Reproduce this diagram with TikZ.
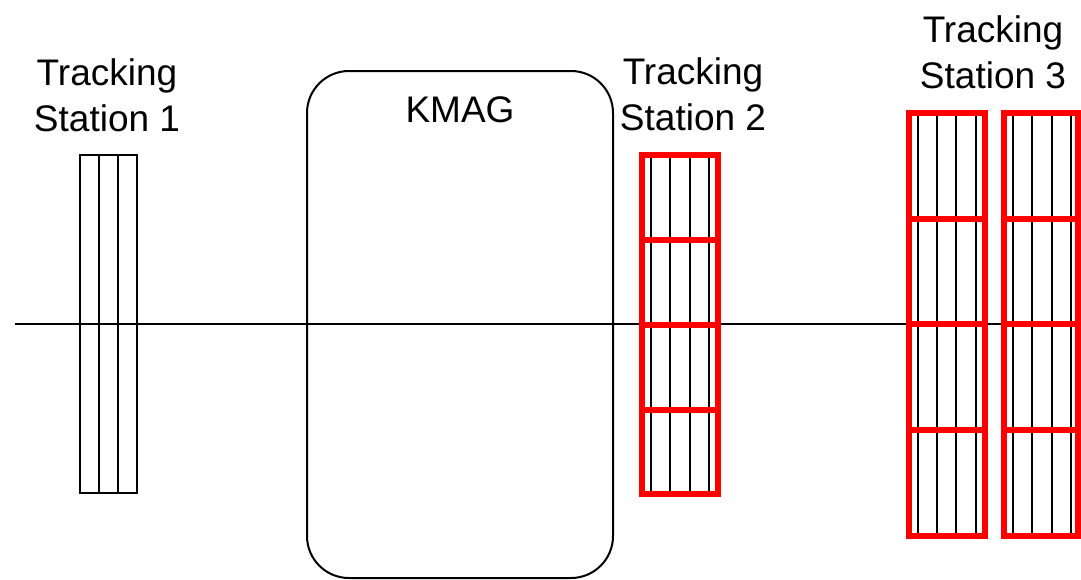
\documentclass[tikz,border=0pt]{standalone}
\usepackage{fontspec}
\setmainfont{Liberation Sans}
\begin{document}
\begin{tikzpicture}[x=1pt,y=-1pt,
  lbl/.style={font=\fontsize{37}{46}\selectfont, align=center, inner sep=0pt},
  thin/.style={line width=2pt, black},
  redbox/.style={draw=red, line width=6pt},
  kmag/.style={draw=black, line width=2pt, rounded corners=42pt, fill=white}]
\useasboundingbox (0,0) rectangle (1081,579);
\fill[white] (0,0) rectangle (1081,579);
% beam line
\coordinate (L) at (15,324);
\coordinate (R) at (1081,324);
% KMAG
\node[kmag, minimum width=306pt, minimum height=507pt, inner sep=0pt] (km) at (460,324.5) {};
\node[lbl] (kmt) at (460,110) {KMAG};
\draw[thin] (L) -- (R);
% Station 1
\node[draw=black, line width=2pt, minimum width=57pt, minimum height=338pt, inner sep=0pt] (s1) at (108.5,324) {};
\foreach \x in {99,118} \draw[thin] (\x,155) -- (\x,493);
\node[lbl] (s1t) at (107,95) {Tracking\\Station 1};
% Station 2
\foreach \x in {651,670.3,689.7,709} \draw[thin] (\x,155) -- (\x,494);
\node[redbox, minimum width=76pt, minimum height=339pt, inner sep=0pt] (s2) at (680,324.5) {};
\foreach \y in {240,325,410} \draw[red, line width=6pt] (s2.west |- 0,\y) -- (s2.east |- 0,\y);
\node[lbl] (s2t) at (693,94) {Tracking\\Station 2};
% Station 3
\foreach \x in {918,937.3,956.3,975.7,1013.3,1032.3,1051.7,1070.7} \draw[thin] (\x,113) -- (\x,536);
\node[redbox, minimum width=75.5pt, minimum height=423pt, inner sep=0pt] (s3a) at (946.75,324.5) {};
\node[redbox, minimum width=74.5pt, minimum height=423pt, inner sep=0pt] (s3b) at (1040.75,324.5) {};
\foreach \y in {218.5,324.3,430} {
  \draw[red, line width=6pt] (s3a.west |- 0,\y) -- (s3a.east |- 0,\y);
  \draw[red, line width=6pt] (s3b.west |- 0,\y) -- (s3b.east |- 0,\y);
}
\node[lbl] (s3t) at (993,52) {Tracking\\Station 3};
\end{tikzpicture}
\end{document}
